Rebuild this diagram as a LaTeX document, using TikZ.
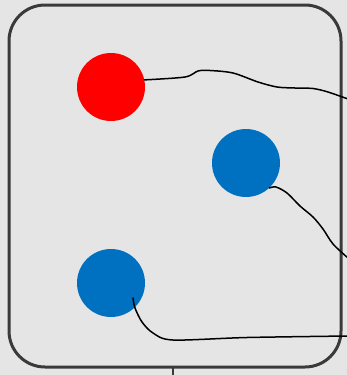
\documentclass[tikz,border=0pt]{standalone}
\begin{document}
\begin{tikzpicture}[x=1pt,y=-1pt,
  dot/.style={circle,minimum size=68pt,inner sep=0pt,draw=none},
  wire/.style={line width=1.5pt,black,line cap=round}]
\definecolor{bg}{HTML}{E5E5E5}
\definecolor{frame}{HTML}{3A3A3A}
\definecolor{myblue}{HTML}{0070C0}
\fill[bg] (0,0) rectangle (347,375);
\useasboundingbox (0,0) rectangle (347,375);
\draw[frame,line width=3pt,rounded corners=36pt] (9,5) rectangle (341,367);
\draw[frame,line width=2.5pt] (173,367) -- (173,376);
\node[dot,fill=red] (r) at (111,87) {};
\node[dot,fill=myblue] (b1) at (246,163) {};
\node[dot,fill=myblue] (b2) at (111,283) {};
\coordinate (e1) at (348,99);
\coordinate (e2) at (348,258);
\coordinate (e3) at (348,336);
\coordinate (s3) at (133,298);
\draw[wire] plot[smooth,tension=0.5] coordinates {(r.12) (185,77) (198,71) (210,70.5) (233,73) (258,82) (277,87) (295,88) (313,88.5) (328,92) (348,99)};
\draw[wire] plot[smooth,tension=0.5] coordinates {(b1.-47) (276,187) (287,193) (300,206) (313,217) (323,229) (333,244) (348,258)};
\draw[wire] plot[smooth,tension=0.5] coordinates {(s3) (135,308) (142,322) (153,333) (173,340) (247,337.5) (348,336)};
\end{tikzpicture}
\end{document}
